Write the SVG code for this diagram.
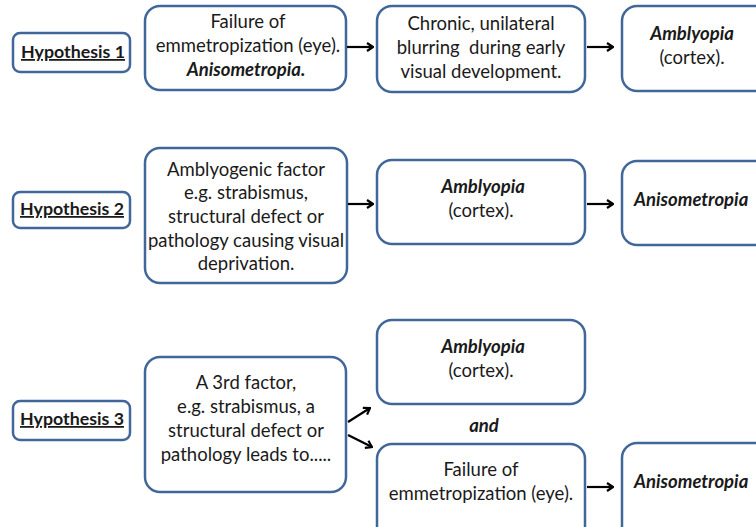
<svg xmlns="http://www.w3.org/2000/svg" width="756" height="527" viewBox="0 0 756 527">
<defs>
<style>
.box{fill:#fff;stroke:#41679a;stroke-width:2.5}
.t{font-family:Lato,"Open Sans","Liberation Sans",sans-serif;font-size:18.5px;fill:#1a1a1a;text-anchor:middle}
.bi{font-weight:bold;font-style:italic}
.h{font-weight:bold;text-decoration:underline;font-size:17.8px}
.c{stroke:#000;stroke-width:2.2;fill:none;marker-end:url(#ah)}
</style>
<marker id="ah" viewBox="0 0 10 10" refX="9" refY="5" markerWidth="10" markerHeight="10" orient="auto" markerUnits="userSpaceOnUse">
<path d="M3,1 L9,5 L3,9" fill="none" stroke="#000" stroke-width="2.2"/>
</marker>
</defs>
<rect width="756" height="527" fill="#fff"/>

<g id="h1"><rect class="box" x="13" y="33" width="117" height="39" rx="7"/><text class="t h" x="73" y="58">Hypothesis 1</text></g>
<g id="a1"><rect class="box" x="145" y="6" width="201" height="84" rx="15"/>
<text class="t" x="248" y="28">Failure of</text>
<text class="t" x="248" y="52">emmetropization (eye).</text>
<text class="t bi" x="246" y="76">Anisometropia.</text></g>
<g id="b1"><rect class="box" x="377" y="6" width="208" height="86" rx="15"/>
<text class="t" x="481" y="30">Chronic, unilateral</text>
<text class="t" x="481" y="54" xml:space="preserve">blurring  during early</text>
<text class="t" x="481" y="78">visual development.</text></g>
<g id="c1"><rect class="box" x="622" y="6" width="150" height="85" rx="15"/>
<text class="t bi" x="692" y="40">Amblyopia</text>
<text class="t" x="692" y="64">(cortex).</text></g>

<g id="h2"><rect class="box" x="13" y="192" width="117" height="36" rx="7"/><text class="t h" x="72" y="215">Hypothesis 2</text></g>
<g id="a2"><rect class="box" x="145" y="148" width="202" height="135" rx="15"/>
<text class="t" x="246" y="176">Amblyogenic factor</text>
<text class="t" x="246" y="199">e.g. strabismus,</text>
<text class="t" x="246" y="223">structural defect or</text>
<text class="t" x="246" y="247">pathology causing visual</text>
<text class="t" x="246" y="270">deprivation.</text></g>
<g id="b2"><rect class="box" x="377" y="160" width="208" height="84" rx="15"/>
<text class="t bi" x="483" y="193">Amblyopia</text>
<text class="t" x="481" y="217">(cortex).</text></g>
<g id="c2"><rect class="box" x="622" y="161" width="150" height="84" rx="15"/>
<text class="t bi" x="634" y="206" style="text-anchor:start">Anisometropia</text></g>

<g id="h3"><rect class="box" x="13" y="401" width="117" height="39" rx="7"/><text class="t h" x="72" y="425">Hypothesis 3</text></g>
<g id="a3"><rect class="box" x="145" y="357" width="201" height="135" rx="15"/>
<text class="t" x="246" y="389">A 3rd factor,</text>
<text class="t" x="246" y="413">e.g. strabismus, a</text>
<text class="t" x="246" y="437">structural defect or</text>
<text class="t" x="246" y="461">pathology leads to.....</text></g>
<g id="b3a"><rect class="box" x="377" y="320" width="208" height="84" rx="15"/>
<text class="t bi" x="483" y="353">Amblyopia</text>
<text class="t" x="481" y="377">(cortex).</text></g>
<g id="and"><text class="t bi" x="484" y="432">and</text></g>
<g id="b3b"><rect class="box" x="377" y="444" width="208" height="100" rx="15"/>
<text class="t" x="481" y="476">Failure of</text>
<text class="t" x="481" y="500">emmetropization (eye).</text></g>
<g id="c3"><rect class="box" x="622" y="443" width="150" height="100" rx="15"/>
<text class="t bi" x="634" y="488" style="text-anchor:start">Anisometropia</text></g>

<g id="connectors">
<line class="c" x1="347" y1="47" x2="373" y2="47"/>
<line class="c" x1="587" y1="47" x2="613" y2="47"/>
<line class="c" x1="348" y1="204" x2="373" y2="204"/>
<line class="c" x1="587" y1="204" x2="613" y2="204"/>
<line class="c" x1="348" y1="422" x2="370" y2="408"/>
<line class="c" x1="348" y1="435" x2="372" y2="447"/>
<line class="c" x1="587" y1="487" x2="613" y2="487"/>
</g>
</svg>
